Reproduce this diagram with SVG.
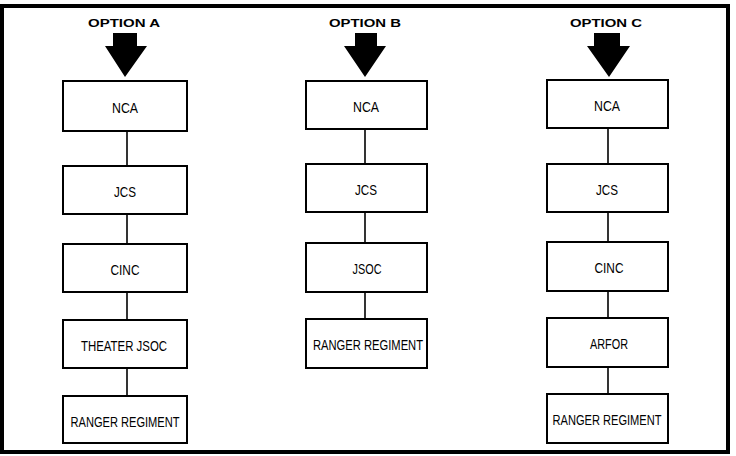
<svg xmlns="http://www.w3.org/2000/svg" width="736" height="456" viewBox="0 0 736 456">
<style>
.frame{fill:#fff;stroke:#000;stroke-width:4}
.box{fill:#fff;stroke:#000;stroke-width:2}
.lbl{font-family:"Liberation Sans",Arial,sans-serif;font-size:15px;fill:#000;text-anchor:middle}
.ttl{font-family:"Liberation Sans",Arial,sans-serif;font-size:11px;font-weight:bold;fill:#000;text-anchor:middle}
.conn line{stroke:#000;stroke-width:1.6}
.arr{fill:#000}
</style>
<rect class="frame" x="2" y="6" width="726" height="446"/>
<g id="connectors" class="conn">
<line x1="127" y1="131" x2="127" y2="166"/>
<line x1="127" y1="214" x2="127" y2="244"/>
<line x1="127" y1="292" x2="127" y2="320"/>
<line x1="127" y1="368" x2="127" y2="396"/>
<line x1="365" y1="129" x2="365" y2="164"/>
<line x1="365" y1="212" x2="365" y2="243"/>
<line x1="365" y1="292" x2="365" y2="319"/>
<line x1="608" y1="128" x2="608" y2="164"/>
<line x1="608" y1="212" x2="608" y2="242"/>
<line x1="608" y1="291" x2="608" y2="318"/>
<line x1="608" y1="367" x2="608" y2="394"/>
</g>
<g id="optionA">
<text class="ttl" x="124" y="27" textLength="72" lengthAdjust="spacingAndGlyphs">OPTION A</text>
<polygon class="arr" points="113,33 137,33 137,46 147,46 125,77 105,46 113,46"/>
</g>
<g id="optionB">
<text class="ttl" x="365" y="27" textLength="72" lengthAdjust="spacingAndGlyphs">OPTION B</text>
<polygon class="arr" points="355,33 377,33 377,46 386,46 365,77 344,46 355,46"/>
</g>
<g id="optionC">
<text class="ttl" x="606" y="27" textLength="72" lengthAdjust="spacingAndGlyphs">OPTION C</text>
<polygon class="arr" points="594,33 620,33 620,46 630,46 609,77 587,46 594,46"/>
</g>
<g id="a-nca"><rect class="box" x="63" y="81" width="124" height="50"/><text class="lbl" x="125" y="113" textLength="26" lengthAdjust="spacingAndGlyphs">NCA</text></g>
<g id="a-jcs"><rect class="box" x="63" y="166" width="124" height="48"/><text class="lbl" x="125" y="197" textLength="22" lengthAdjust="spacingAndGlyphs">JCS</text></g>
<g id="a-cinc"><rect class="box" x="63" y="244" width="124" height="48"/><text class="lbl" x="125" y="275" textLength="29" lengthAdjust="spacingAndGlyphs">CINC</text></g>
<g id="a-tjsoc"><rect class="box" x="63" y="320" width="124" height="48"/><text class="lbl" x="124" y="351" textLength="86" lengthAdjust="spacingAndGlyphs">THEATER JSOC</text></g>
<g id="a-rr"><rect class="box" x="63" y="396" width="124" height="47"/><text class="lbl" x="125" y="427" textLength="109" lengthAdjust="spacingAndGlyphs">RANGER REGIMENT</text></g>
<g id="b-nca"><rect class="box" x="306" y="81" width="121" height="48"/><text class="lbl" x="366" y="112" textLength="26" lengthAdjust="spacingAndGlyphs">NCA</text></g>
<g id="b-jcs"><rect class="box" x="306" y="164" width="121" height="48"/><text class="lbl" x="366" y="195" textLength="22" lengthAdjust="spacingAndGlyphs">JCS</text></g>
<g id="b-jsoc"><rect class="box" x="306" y="243" width="121" height="49"/><text class="lbl" x="367" y="274" textLength="29" lengthAdjust="spacingAndGlyphs">JSOC</text></g>
<g id="b-rr"><rect class="box" x="306" y="319" width="121" height="49"/><text class="lbl" x="368" y="350" textLength="110" lengthAdjust="spacingAndGlyphs">RANGER REGIMENT</text></g>
<g id="c-nca"><rect class="box" x="547" y="80" width="121" height="48"/><text class="lbl" x="607" y="111" textLength="26" lengthAdjust="spacingAndGlyphs">NCA</text></g>
<g id="c-jcs"><rect class="box" x="547" y="164" width="121" height="48"/><text class="lbl" x="607" y="195" textLength="22" lengthAdjust="spacingAndGlyphs">JCS</text></g>
<g id="c-cinc"><rect class="box" x="547" y="242" width="121" height="49"/><text class="lbl" x="609" y="273" textLength="29" lengthAdjust="spacingAndGlyphs">CINC</text></g>
<g id="c-arfor"><rect class="box" x="547" y="318" width="121" height="49"/><text class="lbl" x="609" y="349" textLength="38" lengthAdjust="spacingAndGlyphs">ARFOR</text></g>
<g id="c-rr"><rect class="box" x="547" y="394" width="121" height="49"/><text class="lbl" x="607" y="425" textLength="109" lengthAdjust="spacingAndGlyphs">RANGER REGIMENT</text></g>
</svg>
